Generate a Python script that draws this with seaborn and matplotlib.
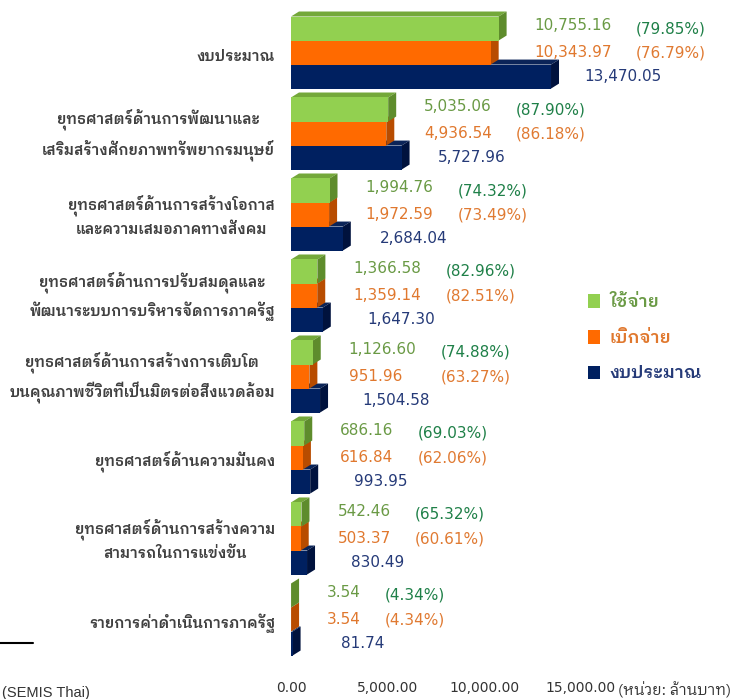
import matplotlib
matplotlib.use('Agg')
import pandas as pd
import seaborn as sns
import matplotlib.pyplot as plt
from matplotlib.patches import Polygon, Patch
from matplotlib.lines import Line2D
from matplotlib.transforms import ScaledTranslation

# ข้อมูล (ล้านบาท)
categories = [
    'งบประมาณ',
    'ยุทธศาสตร์ด้านการพัฒนาและ\nเสริมสร้างศักยภาพทรัพยากรมนุษย์',
    'ยุทธศาสตร์ด้านการสร้างโอกาส\nและความเสมอภาคทางสังคม',
    'ยุทธศาสตร์ด้านการปรับสมดุลและ\nพัฒนาระบบการบริหารจัดการภาครัฐ',
    'ยุทธศาสตร์ด้านการสร้างการเติบโต\nบนคุณภาพชีวิตที่เป็นมิตรต่อสิ่งแวดล้อม',
    'ยุทธศาสตร์ด้านความมั่นคง',
    'ยุทธศาสตร์ด้านการสร้างความ\nสามารถในการแข่งขัน',
    'รายการค่าดำเนินการภาครัฐ',
]
series = ['ใช้จ่าย', 'เบิกจ่าย', 'งบประมาณ']
spent = [10755.16, 5035.06, 1994.76, 1366.58, 1126.60, 686.16, 542.46, 3.54]
disbursed = [10343.97, 4936.54, 1972.59, 1359.14, 951.96, 616.84, 503.37, 3.54]
budget = [13470.05, 5727.96, 2684.04, 1647.30, 1504.58, 993.95, 830.49, 81.74]
pct_spent = [79.85, 87.90, 74.32, 82.96, 74.88, 69.03, 65.32, 4.34]
pct_disbursed = [76.79, 86.18, 73.49, 82.51, 63.27, 62.06, 60.61, 4.34]
xticks = [0, 5000, 10000, 15000]

front = ['#92d050', '#ff6a00', '#002060']
side = ['#5e8c2c', '#b84c00', '#00123d']
top = ['#74a83a', '#d85a00', '#0b2458']
label_col = ['#6a9a45', '#e0782e', '#253a78']
pct_col = ['#1f8048', '#e07a32']

df = pd.DataFrame({
    'cat': categories * 3,
    'series': [s for s in series for _ in categories],
    'value': spent + disbursed + budget,
})

sns.set_style('white')
thai = 'IBM Plex Sans Thai Looped'
plt.rcParams['font.family'] = [thai, 'DejaVu Sans']

W, H, DPI = 734, 699, 100
fig = plt.figure(figsize=(W / DPI, H / DPI), dpi=DPI)
ax_left, ax_bottom, ax_w, ax_h = 291, 39, 443, 652
ax = fig.add_axes([ax_left / W, ax_bottom / H, ax_w / W, ax_h / H])

sns.barplot(data=df, y='cat', x='value', hue='series', hue_order=series,
            palette=front, orient='h', width=0.89, gap=0, legend=False,
            saturation=1, ax=ax)

xmax = 22950
ax.set_xlim(0, xmax)
ax.set_ylim(7.5, -0.55)
ppx = ax_w / xmax          # px ต่อหน่วยข้อมูล (แกน x)
ppy = ax_h / 8.05          # px ต่อหมวด (แกน y)
dx = 8 / ppx
dy = 5 / ppy

# หน้าข้างและด้านบนแบบ 3 มิติ
for i, cont in enumerate(ax.containers):
    z = 2 + (2 - i)
    for p in cont.patches:
        p.set_zorder(z)
        p.set_edgecolor('none')
        x0, y0 = p.get_x(), p.get_y()
        x1, y1 = x0 + p.get_width(), y0 + p.get_height()
        ax.add_patch(Polygon([(x1, y1), (x1 + dx, y1 - dy), (x1 + dx, y0 - dy), (x1, y0)],
                             closed=True, fc=side[i], ec='none', zorder=z - 0.1))
        ax.add_patch(Polygon([(x0, y0), (x0 + dx, y0 - dy), (x1 + dx, y0 - dy), (x1, y0)],
                             closed=True, fc=top[i], ec='none', zorder=z - 0.2))

# ตัวเลขกำกับ
bh = 0.89 / 3
num_kw = dict(fontsize=11, family='DejaVu Sans', va='center', ha='left', zorder=10)
for j in range(len(categories)):
    yg, yo, yn = j - bh, j, j + bh
    xg = spent[j] + dx + 28 / ppx
    xn = max(budget[j] + dx + 25 / ppx, xg + 14 / ppx)
    tg = ax.text(xg, yg - 3 / ppy, f'{spent[j]:,.2f}', color=label_col[0], **num_kw)
    ax.text(xg, yo, f'{disbursed[j]:,.2f}', color=label_col[1], **num_kw)
    ax.text(xn, yn, f'{budget[j]:,.2f}', color=label_col[2], **num_kw)
    ax.annotate(f'({pct_spent[j]:.2f}%)', xy=(1, yg), xycoords=(tg, 'data'),
                xytext=(24, 0), textcoords='offset pixels', color=pct_col[0],
                fontsize=11, family='DejaVu Sans', va='center', ha='left')
    ax.annotate(f'({pct_disbursed[j]:.2f}%)', xy=(1, yo), xycoords=(tg, 'data'),
                xytext=(24, 0), textcoords='offset pixels', color=pct_col[1],
                fontsize=11, family='DejaVu Sans', va='center', ha='left')

# ชื่อหมวด
ax.set_yticks(range(len(categories)))
ax.set_yticklabels([])
for j, name in enumerate(categories):
    shift = -1 if '\n' in name else -4
    tr = ax.get_yaxis_transform() + ScaledTranslation(-16 / DPI, shift / DPI, fig.dpi_scale_trans)
    ax.text(0, j, name, transform=tr, ha='right', va='center', multialignment='center',
            fontsize=10.6, color='#404040', fontweight='semibold', linespacing=1.6)

ax.set_xticks(xticks)
ax.set_xticklabels([f'{v:,.2f}' for v in xticks], family='DejaVu Sans', fontsize=10, color='#333333')
ax.tick_params(axis='x', length=0, pad=15)
ax.tick_params(axis='y', length=0)
ax.set_xlabel('')
ax.set_ylabel('')
sns.despine(ax=ax, left=True, bottom=True)

handles = [Patch(facecolor=c, edgecolor='none') for c in front]
leg = ax.legend(handles, series, loc='upper left', bbox_to_anchor=(572 / W, 1 - 278 / H),
                bbox_transform=fig.transFigure, frameon=False,
                handlelength=0.7, handleheight=0.85, handletextpad=0.55, labelspacing=1.15,
                prop={'family': thai, 'weight': 'semibold', 'size': 12.5})
for t, c in zip(leg.get_texts(), label_col):
    t.set_color(c)

fig.text(618 / W, 1 - 690 / H, '(หน่วย: ล้านบาท)', fontsize=11, color='#333333', va='center', ha='left')
fig.add_artist(Line2D([0, 33 / W], [1 - 643 / H] * 2, color='black', lw=1.5))
fig.text(2 / W, 1 - 686 / H, '(SEMIS Thai)', family='Liberation Sans', fontsize=10.5,
         color='#333333', va='top', ha='left')

fig.savefig('out.png', dpi=DPI)
